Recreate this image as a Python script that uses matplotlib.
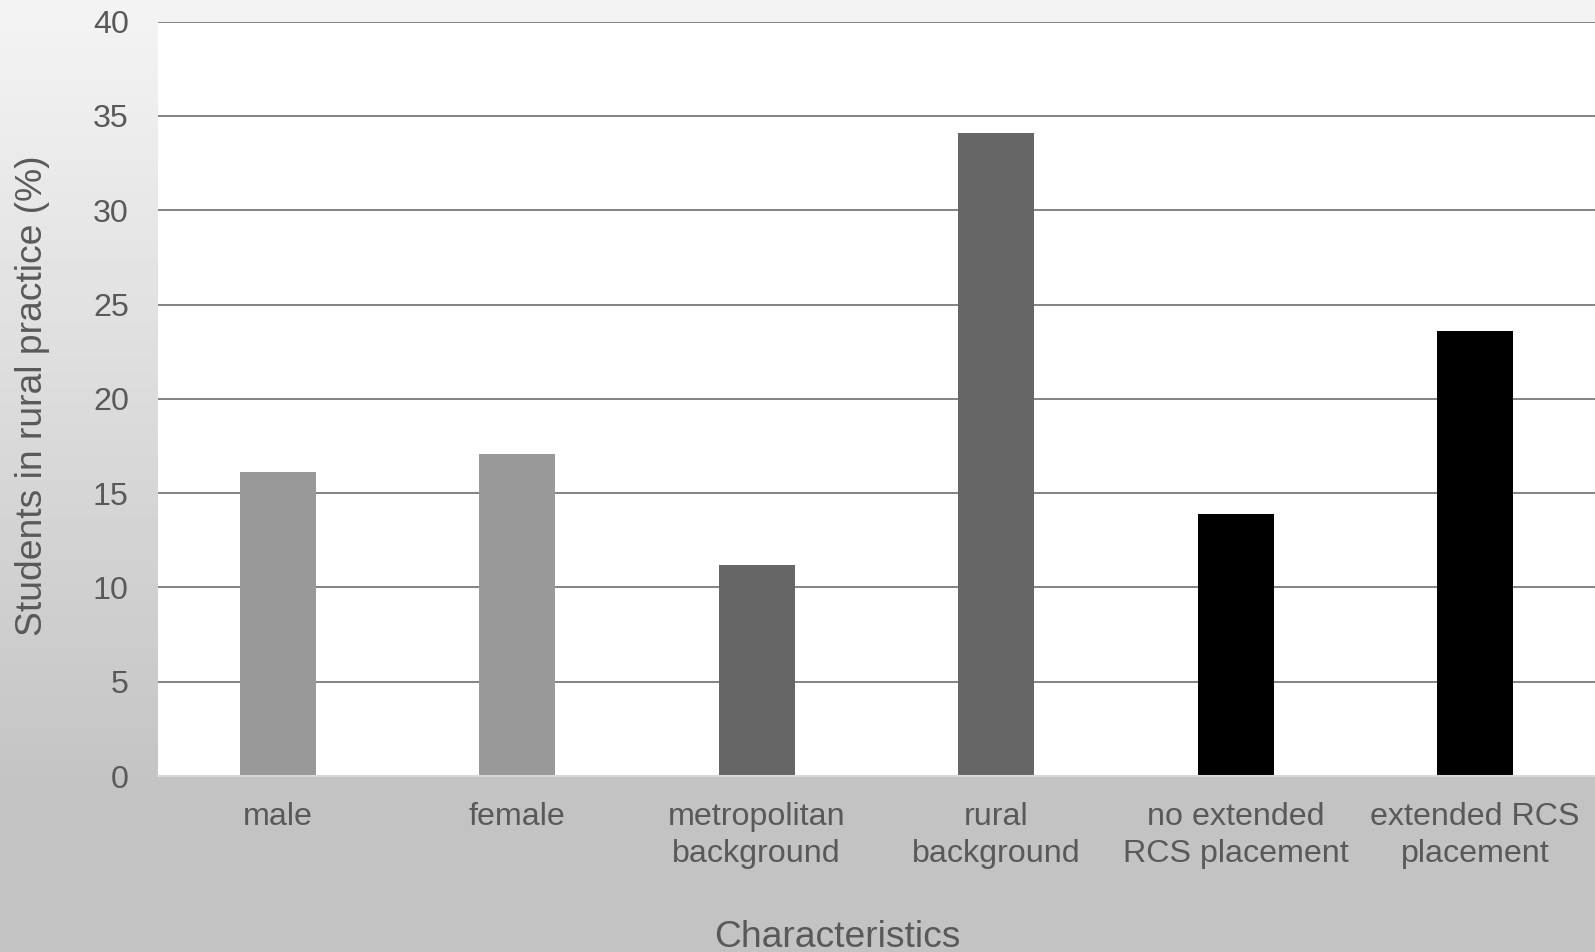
import matplotlib.pyplot as plt
import numpy as np

plt.rcParams['font.family'] = ['Liberation Sans', 'DejaVu Sans']

# values
categories = ["male", "female", "metropolitan\nbackground", "rural\nbackground",
              "no extended\nRCS placement", "extended RCS\nplacement"]
values = [16.1, 17.1, 11.2, 34.1, 13.9, 23.6]
bar_colors = ["#999999", "#999999", "#666666", "#666666", "#000000", "#000000"]
y_ticks = [0, 5, 10, 15, 20, 25, 30, 35, 40]

text_col = "#595959"
W, H = 1595, 952

fig = plt.figure(figsize=(W / 100, H / 100), dpi=100)

# grey vertical gradient behind everything
bg = fig.add_axes([0, 0, 1, 1], zorder=-1)
rows = np.arange(H)
shade = np.clip(244 - (244 - 196) * rows / 780, 196, 244) / 255.0
grad = np.repeat(shade[:, None], 2, axis=1)
bg.imshow(grad, cmap="gray", vmin=0, vmax=1, aspect="auto", extent=[0, 1, 1, 0])
bg.set_axis_off()

left, right = 158 / W, 1595 / W
bottom, top = 1 - 776 / H, 1 - 21.7 / H
ax = fig.add_axes([left, bottom, right - left, top - bottom])
ax.set_facecolor("white")

x = np.arange(len(categories))
ax.bar(x, values, width=0.317, color=bar_colors, zorder=3)

ax.set_xlim(-0.5, len(categories) - 0.5)
ax.set_ylim(0, 40)
ax.set_yticks(y_ticks)
ax.yaxis.grid(True, color="#868686", linewidth=1.45, zorder=1)
ax.set_axisbelow(True)

for s in ["top", "right", "left"]:
    ax.spines[s].set_visible(False)
ax.spines["bottom"].set_color("#d9d9d9")
ax.spines["bottom"].set_linewidth(1.5)
ax.spines["bottom"].set_zorder(4)

ax.set_xticks(x)
ax.set_xticklabels(categories, linespacing=1.31)
ax.tick_params(axis="x", length=0, pad=18.6, labelsize=23.2, labelcolor=text_col)
ax.tick_params(axis="y", length=0, pad=21, labelsize=23.2, labelcolor=text_col)

fig.text(33 / W, 1 - 396 / H, "Students in rural practice (%)", rotation=90,
         ha="center", va="center", fontsize=26.8, color=text_col)
fig.text(837 / W, 1 - 947 / H, "Characteristics", ha="center", va="baseline",
         fontsize=26.8, color=text_col)

fig.savefig("out.png", dpi=100)
